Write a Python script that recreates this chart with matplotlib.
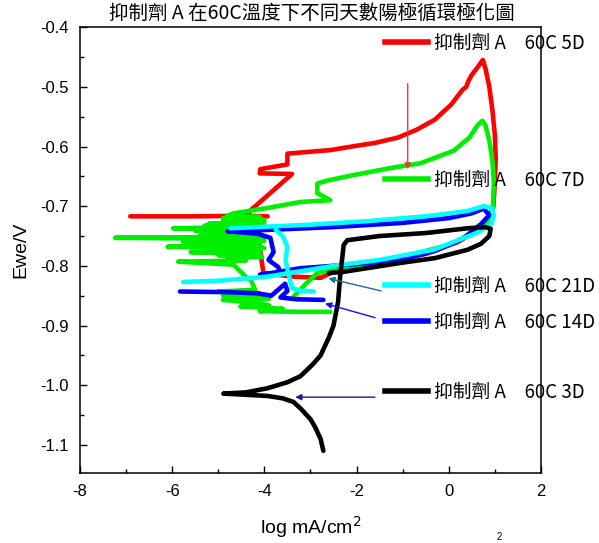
import numpy as np
import matplotlib
matplotlib.use("Agg")
import matplotlib.pyplot as plt
from matplotlib.lines import Line2D
from matplotlib.ticker import MultipleLocator, FormatStrFormatter

plt.rcParams["font.family"] = ["Liberation Sans", "Noto Sans CJK TC"]
plt.rcParams["axes.unicode_minus"] = False
CJK = ["Noto Sans CJK TC", "DejaVu Sans"]
nan = np.nan

TITLE = "抑制劑 A 在60C溫度下不同天數陽極循環極化圖"
LABEL_5D = "抑制劑 A　60C 5D"
LABEL_7D = "抑制劑 A　60C 7D"
LABEL_21D = "抑制劑 A　60C 21D"
LABEL_14D = "抑制劑 A　60C 14D"
LABEL_3D = "抑制劑 A　60C 3D"

# 5D (red)
red_x = [-6.91, -5.5, -4.4, -3.93, nan,
         -4.15, -4.1, -4.02, -3.4, -2.78, -2.5, -1.5, -0.5, 0.2, 0.6, 0.9,
         0.97, 1.0, 1.02, 1.0, 0.95, 0.88, 0.8, 0.74, 0.6, 0.5, 0.43, 0.38, 0.3,
         0.2, 0.05, -0.3, -0.7, -1.1, -1.6, -2.1, -2.57, -3.2, -3.5, -3.5, -4.09, -4.1,
         -3.4, -4.3, -4.4]
red_y = [-0.717, -0.717, -0.716, -0.717, nan,
         -0.722, -0.77, -0.812, -0.818, -0.82, -0.81, -0.795, -0.78, -0.76, -0.74, -0.715,
         -0.70, -0.66, -0.62, -0.58, -0.54, -0.50, -0.47, -0.455, -0.47, -0.48, -0.49, -0.50, -0.505,
         -0.515, -0.53, -0.555, -0.572, -0.585, -0.594, -0.60, -0.606, -0.61, -0.612, -0.63, -0.638, -0.645,
         -0.646, -0.707, -0.716]

# 7D (green)
green_x = [-2.57, -3.3, -4.1, -3.6, -4.52, -3.9, -4.2, -4.9, -3.9, -4.9, -4.1, -5.0, -4.2,
           -4.3, -4.38, -4.67, -5.87, -4.4, -4.8, -4.05, -5.0, -4.1, -5.6, -4.1, -5.2, -4.0,
           -6.1, -4.24, -5.3, -4.1, -5.76, -4.0, -5.1, -4.2, -7.24, -4.0, -5.4, -4.1, -5.2,
           -4.2, -5.5, -4.3, -5.98, -4.3, -5.3, -4.1, -5.2, -4.0, -4.9, -4.0, -4.9, -4.1,
           -4.8, -4.67, -3.93, -3.22, -2.57, -2.85, -2.85, -2.63, -2.07, -1.33, -0.61, 0.11,
           0.45, 0.62, 0.73, 0.8, 0.88, 0.95, 0.98, 0.96, 0.9, 0.6, 0.0, -1.0, -2.0, -2.85,
           -3.1, -3.37]
green_y = [-0.877, -0.877, -0.876, -0.872, -0.868, -0.866, -0.862, -0.857, -0.855, -0.85, -0.846, -0.843, -0.84,
           -0.823, -0.82, -0.798, -0.793, -0.791, -0.787, -0.785, -0.782, -0.78, -0.777, -0.775, -0.772, -0.77,
           -0.768, -0.766, -0.764, -0.762, -0.76, -0.758, -0.756, -0.755, -0.753, -0.751, -0.749, -0.747, -0.745,
           -0.743, -0.741, -0.739, -0.737, -0.735, -0.733, -0.731, -0.729, -0.727, -0.725, -0.723, -0.72, -0.718,
           -0.716, -0.712, -0.703, -0.693, -0.69, -0.678, -0.662, -0.657, -0.648, -0.637, -0.628, -0.607,
           -0.585, -0.565, -0.557, -0.565, -0.59, -0.625, -0.66, -0.70, -0.72, -0.742, -0.765, -0.785, -0.80, -0.812,
           -0.83, -0.852]

# 14D (blue)
blue_x = [-5.83, -4.8, -4.15, -3.85, -3.7, -3.55, -3.5, -3.65, -3.3, -2.72, nan,
          -4.09, -3.22, -2.0, -1.04, -0.3, 0.3, 0.7, 0.88, 0.76, 0.5, 0.0, -1.0,
          -2.5, -4.0, -4.8, -4.16, -3.87, -3.8, -3.91, -3.7, -3.65, -4.09]
blue_y = [-0.843, -0.844, -0.846, -0.85, -0.84, -0.83, -0.842, -0.853, -0.856, -0.857, nan,
          -0.815, -0.804, -0.797, -0.79, -0.775, -0.755, -0.73, -0.715, -0.704, -0.712, -0.72, -0.728,
          -0.735, -0.74, -0.742, -0.746, -0.753, -0.777, -0.79, -0.802, -0.812, -0.815]

# 21D (cyan)
cyan_x = [-4.74, -3.0, -1.76, -0.5, 0.41, 0.76, 0.93, 0.98, 0.92, 0.6, -0.33, -1.5,
          -2.5, -3.93, -5.0, -5.76, nan,
          -3.75, -3.6, -3.5, -3.54, -3.48, -3.4, -3.2, -2.93]
cyan_y = [-0.737, -0.731, -0.725, -0.717, -0.708, -0.70, -0.703, -0.715, -0.73, -0.745, -0.773, -0.79,
          -0.80, -0.818, -0.825, -0.827, nan,
          -0.74, -0.75, -0.768, -0.79, -0.812, -0.837, -0.842, -0.843]

# 3D (black)
black_x = [-2.72, -2.78, -2.9, -3.0, -3.2, -3.37, -3.6, -3.93, -4.4, -4.89, -4.4, -3.93,
           -3.5, -3.22, -2.95, -2.78, -2.6, -2.5, -2.4, -2.35, -2.3, -2.28, -2.2, -1.5,
           -0.5, 0.41, 0.8, 0.91, 0.88, 0.7, 0.41, -0.3, -1.04, -2.28, -2.6]
black_y = [-1.11, -1.09, -1.07, -1.057, -1.04, -1.028, -1.022, -1.018, -1.016, -1.014, -1.012, -1.005,
           -0.995, -0.985, -0.965, -0.95, -0.92, -0.90, -0.86, -0.812, -0.78, -0.765, -0.757, -0.75,
           -0.745, -0.737, -0.735, -0.738, -0.75, -0.763, -0.773, -0.787, -0.795, -0.81, -0.812]

fig = plt.figure(figsize=(5.99, 5.43), dpi=100)
ax = fig.add_axes([0.1336, 0.129, 0.7694, 0.821])

LW = 3.3
(l5,) = ax.plot(red_x, red_y, color="#ff0000", lw=LW, solid_capstyle="round")
(l7,) = ax.plot(green_x, green_y, color="#00ee00", lw=LW, solid_capstyle="round")
(l14,) = ax.plot(blue_x, blue_y, color="#0000ff", lw=LW, solid_capstyle="round")
(l21,) = ax.plot(cyan_x, cyan_y, color="#00ffff", lw=LW, solid_capstyle="round")
(l3,) = ax.plot(black_x, black_y, color="black", lw=LW, solid_capstyle="round")

# arrows from legend towards curves
arrows = [
    ((-0.89, -0.49), (-0.89, -0.643), "#ff3030"),
    ((-1.41, -0.843), (-2.67, -0.82), "#1a6e8e"),
    ((-1.54, -0.888), (-2.74, -0.862), "#1010ff"),
    ((-1.54, -1.02), (-3.39, -1.02), "#1a1a8c"),
]
for tail, head, c in arrows:
    ax.annotate("", xy=head, xytext=tail,
                arrowprops=dict(arrowstyle="-|>", color=c, lw=1.0, mutation_scale=9))

ax.set_xlim(-8, 2)
ax.set_ylim(-1.147, -0.4)
ax.xaxis.set_major_locator(MultipleLocator(2))
ax.xaxis.set_minor_locator(MultipleLocator(1))
ax.yaxis.set_major_locator(MultipleLocator(0.1))
ax.yaxis.set_minor_locator(MultipleLocator(0.05))
ax.yaxis.set_major_formatter(FormatStrFormatter("%.1f"))
ax.tick_params(which="both", direction="in", top=False, right=False, width=1.0)
ax.tick_params(which="major", length=5, labelsize=12)
ax.tick_params(which="minor", length=3)
ax.tick_params(axis="y", pad=8)
ax.tick_params(axis="x", pad=8)
for s in ax.spines.values():
    s.set_linewidth(1.1)

ax.set_xlabel("log mA/cm$^2$", fontsize=14, labelpad=11)
ax.set_ylabel("Ewe/V", fontsize=14, labelpad=8)
fig.text(0.52, 0.976, TITLE, ha="center", va="center", fontsize=14, family=CJK)
fig.text(499 / 599, 0.001, "2", ha="center", va="bottom", fontsize=7)

entries = [(l5, LABEL_5D, 43), (l7, LABEL_7D, 180), (l21, LABEL_21D, 286),
           (l14, LABEL_14D, 322), (l3, LABEL_3D, 392)]
for line, label, py in entries:
    h = Line2D([], [], color=line.get_color(), lw=4)
    fig.legend([h], [label], loc="center left",
               bbox_to_anchor=(385 / 599, 1 - py / 543),
               frameon=False, borderpad=0, borderaxespad=0,
               handlelength=2.3, handletextpad=0.3,
               prop={"family": CJK, "size": 13.5})

fig.savefig("out.png", dpi=100)
